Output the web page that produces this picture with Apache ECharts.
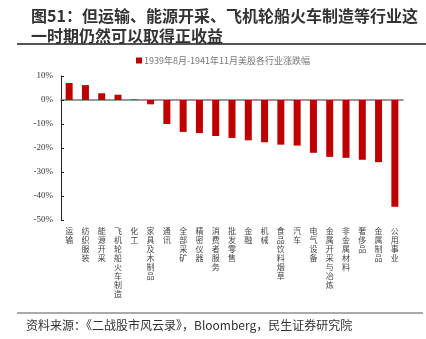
<!DOCTYPE html>
<html>
<head>
<meta charset="utf-8">
<script src="https://cdn.jsdelivr.net/npm/echarts@6/dist/echarts.min.js"></script>
<style>
  html, body { margin: 0; padding: 0; background: #fff; }
  #chart { width: 426px; height: 339px; }
</style>
</head>
<body>
<div id="chart"></div>
<script>
// Industry returns of US stocks, Aug 1939 - Nov 1941 (%)
const categories = [
  '运输', '纺织服装', '能源开采', '飞机轮船火车制造', '化工', '家具及木制品',
  '通讯', '全部采矿', '精密仪器', '消费者服务', '批发零售', '金融', '机械',
  '食品饮料烟草', '汽车', '电气设备', '金属开采与冶炼', '非金属材料',
  '奢侈品', '金属制品', '公用事业'
];
const returns = [
  7.1, 6.2, 2.8, 2.2, 0.2, -1.8,
  -10.0, -13.3, -13.8, -15.0, -15.8, -16.8, -17.6,
  -18.6, -19.0, -22.0, -23.7, -24.1,
  -24.9, -25.9, -44.5
];
const yTicks = { min: -50, max: 10, step: 10 };
const seriesName = '1939年8月-1941年11月美股各行业涨跌幅';

const chart = echarts.init(document.getElementById('chart'));
chart.setOption({
  animation: false,
  title: {
    text: '图51：但运输、能源开采、飞机轮船火车制造等行业这\n一时期仍然可以取得正收益',
    left: 26,
    top: 1,
    textStyle: {
      fontFamily: 'Noto Sans CJK SC',
      fontSize: 16,
      fontWeight: 'bold',
      color: '#333',
      lineHeight: 20
    }
  },
  legend: {
    data: [seriesName],
    top: 51,
    left: 131,
    itemWidth: 6,
    itemHeight: 6,
    itemGap: 2,
    icon: 'rect',
    textStyle: {
      fontFamily: 'Noto Sans CJK SC',
      fontSize: 9,
      color: '#777',
      padding: [0, 0, 0, -3]
    }
  },
  graphic: [
    { type: 'line', shape: { x1: 17, y1: 44, x2: 426, y2: 44 },
      style: { stroke: '#555', lineWidth: 2 } },
    { type: 'line', shape: { x1: 17, y1: 313, x2: 423, y2: 313 },
      style: { stroke: '#555', lineWidth: 1 } },
    { type: 'text', left: 26, top: 319,
      style: { text: '资料来源：《二战股市风云录》，Bloomberg，民生证券研究院',
        font: '12px "Noto Sans CJK SC"', fill: '#333' } }
  ],
  grid: { left: 61, right: 23, top: 76, bottom: 119, containLabel: false },
  xAxis: [
    {
      type: 'category',
      data: categories,
      position: 'bottom',
      axisLine: { show: false, onZero: false },
      axisTick: { show: false },
      axisLabel: {
        interval: 0,
        margin: 6,
        fontFamily: 'Noto Sans CJK SC',
        fontSize: 8,
        lineHeight: 9,
        color: '#444',
        verticalAlign: 'top',
        formatter: v => v.split('').join('\n')
      }
    },
    {
      type: 'category',
      data: categories,
      position: 'bottom',
      axisLine: { show: true, onZero: true, lineStyle: { color: '#777', width: 1.5 } },
      axisTick: { show: false },
      axisLabel: { show: false }
    }
  ],
  yAxis: {
    type: 'value',
    min: yTicks.min,
    max: yTicks.max,
    interval: yTicks.step,
    axisLine: { show: true, lineStyle: { color: '#222', width: 1 } },
    axisTick: { show: true, inside: true, length: 3, lineStyle: { color: '#222' } },
    splitLine: { show: false },
    axisLabel: {
      margin: 8,
      fontFamily: 'Liberation Serif',
      fontSize: 9,
      color: '#333',
      formatter: v => v + '%'
    }
  },
  series: [{
    name: seriesName,
    type: 'bar',
    data: returns,
    barWidth: 7,
    itemStyle: { color: '#C00000' }
  }]
});
</script>
</body>
</html>
